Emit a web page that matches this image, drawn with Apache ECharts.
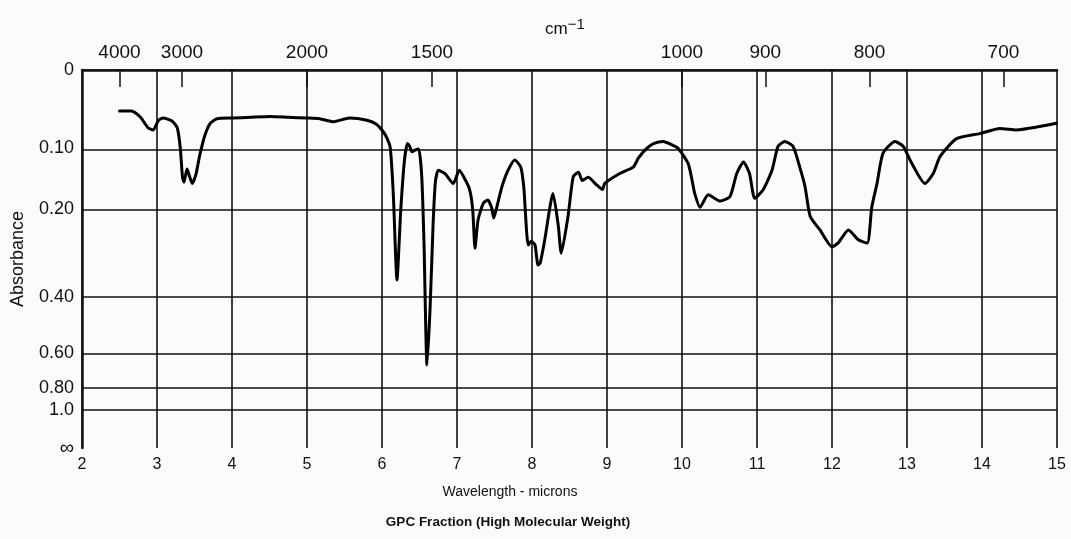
<!DOCTYPE html>
<html><head><meta charset="utf-8">
<script src="https://cdn.jsdelivr.net/npm/echarts@6/dist/echarts.min.js"></script>
<style>html,body{margin:0;padding:0;background:#fbfbfb}#c{width:1071px;height:539px}</style>
</head><body><div id="c"></div>
<script>
// Spectrum trace (wavelength in microns, absorbance)
const wavelength = [2.50,2.66,2.78,2.88,2.95,3.02,3.08,3.20,3.27,3.31,3.34,3.36,3.40,3.43,3.47,3.52,3.57,3.64,3.71,3.80,4.01,4.25,4.51,4.75,5.00,5.17,5.35,5.57,5.80,5.92,6.00,6.06,6.11,6.15,6.20,6.25,6.30,6.34,6.37,6.40,6.45,6.49,6.53,6.56,6.60,6.64,6.68,6.71,6.75,6.84,6.95,7.03,7.11,7.17,7.21,7.24,7.28,7.35,7.41,7.46,7.49,7.53,7.60,7.68,7.77,7.85,7.89,7.91,7.93,7.95,7.99,8.04,8.08,8.11,8.17,8.28,8.35,8.39,8.48,8.55,8.62,8.67,8.75,8.85,8.94,8.97,9.17,9.35,9.42,9.53,9.62,9.75,9.85,9.95,10.08,10.13,10.17,10.24,10.35,10.51,10.64,10.73,10.82,10.90,10.97,11.08,11.20,11.28,11.37,11.48,11.57,11.64,11.71,11.84,12.00,12.08,12.22,12.35,12.47,12.53,12.60,12.68,12.84,12.95,13.04,13.24,13.35,13.44,13.66,13.97,14.24,14.46,14.73,14.99];
const absorbance = [0.050,0.050,0.058,0.072,0.075,0.062,0.059,0.063,0.072,0.100,0.145,0.153,0.132,0.142,0.155,0.140,0.111,0.082,0.066,0.060,0.059,0.058,0.057,0.058,0.059,0.060,0.064,0.059,0.062,0.067,0.075,0.085,0.100,0.171,0.352,0.201,0.118,0.094,0.098,0.106,0.103,0.102,0.144,0.266,0.658,0.438,0.233,0.155,0.134,0.139,0.155,0.134,0.149,0.166,0.201,0.277,0.220,0.189,0.183,0.196,0.216,0.196,0.160,0.134,0.118,0.129,0.160,0.201,0.246,0.270,0.262,0.270,0.315,0.310,0.259,0.172,0.230,0.288,0.213,0.144,0.137,0.150,0.145,0.156,0.165,0.155,0.139,0.129,0.115,0.101,0.094,0.091,0.095,0.101,0.123,0.147,0.172,0.196,0.174,0.185,0.177,0.139,0.121,0.139,0.180,0.166,0.134,0.098,0.091,0.098,0.129,0.160,0.213,0.239,0.274,0.266,0.239,0.259,0.266,0.196,0.155,0.108,0.091,0.098,0.118,0.155,0.139,0.113,0.087,0.080,0.073,0.075,0.071,0.066];

const wavenumberTicks = [4000,3000,2000,1500,1000,900,800,700];
const absTicks = [0,0.1,0.2,0.4,0.6,0.8,1.0,Infinity];
const absTickLabels = ['0','0.10','0.20','0.40','0.60','0.80','1.0','∞'];
const gridAbs = [0.1,0.2,0.4,0.6,0.8,1.0];

// absorbance chart paper scale: linear in transmittance (1 - 10^-A)
function absScale(a){ return isFinite(a) ? 1 - Math.pow(10, -a) : 1; }
const wnToMicron = w => 10000 / w;

const chart = echarts.init(document.getElementById('c'));
const FONT = 'Liberation Sans, Arial, sans-serif';
const ink = '#111';

chart.setOption({
  animation: false,
  backgroundColor: '#fbfbfb',
  textStyle: { fontFamily: FONT, color: ink },
  grid: { left: 82, right: 14, top: 70, bottom: 91, containLabel: false, outerBoundsMode: 'none' },
  xAxis: [
    {
      type: 'value', min: 2, max: 15, interval: 1, position: 'bottom',
      axisLine: { show: true, lineStyle: { color: ink, width: 2.5 } },
      axisTick: { show: false },
      axisLabel: { fontSize: 16, color: ink, margin: 9, fontFamily: FONT },
      splitLine: { show: true, lineStyle: { color: ink, width: 1.6 } }
    },
    {
      type: 'value', min: 2, max: 15, position: 'top',
      axisLine: { show: true, lineStyle: { color: ink, width: 1.6 } },
      axisTick: { show: true, inside: true, length: 17, lineStyle: { color: ink, width: 1.5 },
        customValues: wavenumberTicks.map(wnToMicron) },
      axisLabel: { fontSize: 19, color: ink, margin: 8, fontFamily: FONT,
        customValues: wavenumberTicks.map(wnToMicron),
        formatter: v => String(Math.round(10000 / v)) },
      splitLine: { show: false }
    }
  ],
  yAxis: {
    type: 'value', min: 0, max: 1, inverse: true,
    name: 'Absorbance', nameLocation: 'middle', nameGap: 55, nameRotate: 90,
    nameTextStyle: { fontSize: 18, color: ink, fontFamily: FONT },
    axisLine: { show: true, lineStyle: { color: ink, width: 2.5 } },
    axisTick: { show: false },
    splitLine: { show: false },
    axisLabel: {
      fontSize: 18, color: ink, margin: 8, fontFamily: FONT,
      customValues: absTicks.map(absScale),
      formatter: v => {
        for (let i = 0; i < absTicks.length; i++) {
          if (Math.abs(absScale(absTicks[i]) - v) < 1e-6) {
            return absTickLabels[i] === '∞' ? '{inf|∞}' : absTickLabels[i];
          }
        }
        return '';
      },
      rich: { inf: { fontSize: 20, color: ink, fontFamily: FONT } }
    }
  },
  graphic: [
    { type: 'text', x: 545, y: 17, style: { text: 'cm{s|−1}', rich: { s: { fontSize: 15, verticalAlign: 'top', padding: [0,0,10,0] } }, fontSize: 17, fill: ink, fontFamily: FONT } },
    { type: 'text', x: 510, y: 492, style: { text: 'Wavelength - microns', fontSize: 14, fill: ink, fontFamily: FONT, textAlign: 'center', textVerticalAlign: 'middle' } },
    { type: 'text', x: 508, y: 522, style: { text: 'GPC Fraction (High Molecular Weight)', fontSize: 13.5, fontWeight: 'bold', fill: ink, fontFamily: FONT, textAlign: 'center', textVerticalAlign: 'middle' } }
  ],
  series: [{
    type: 'line',
    xAxisIndex: 0,
    data: wavelength.map((w, i) => [w, absScale(absorbance[i])]),
    showSymbol: false,
    smooth: 0.2,
    lineStyle: { color: '#000', width: 3, join: 'round', cap: 'round' },
    z: 5,
    markLine: {
      silent: true, symbol: ['none', 'none'], label: { show: false },
      lineStyle: { color: ink, width: 1.6, type: 'solid' },
      data: gridAbs.map(a => ({ yAxis: absScale(a) }))
    }
  }]
});
</script></body></html>
